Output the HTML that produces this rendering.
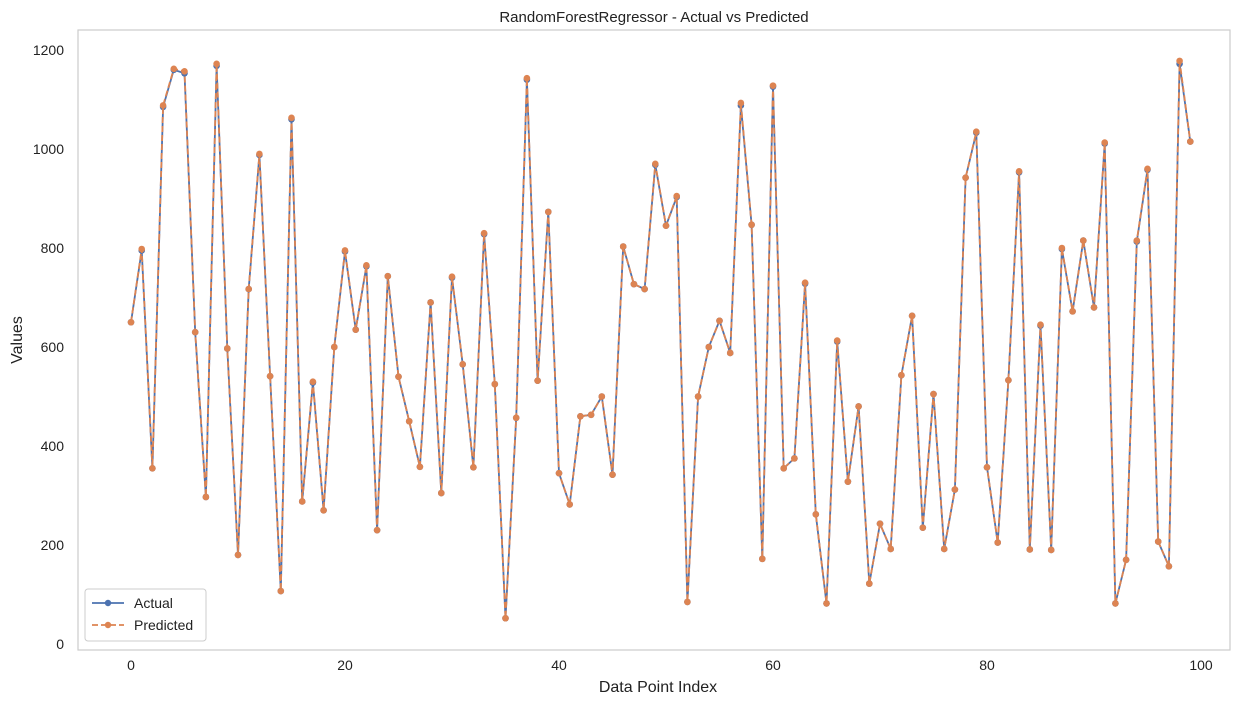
<!DOCTYPE html>
<html><head><meta charset="utf-8"><style>
body{margin:0;background:#fff;font-family:"Liberation Sans",sans-serif}
</style></head><body>
<svg id="chart" width="1250" height="704" xmlns="http://www.w3.org/2000/svg" font-family="Liberation Sans, sans-serif">
<rect x="0" y="0" width="1250" height="704" fill="#fff"/>
<text x="654" y="22" text-anchor="middle" font-size="15" fill="#222">RandomForestRegressor - Actual vs Predicted</text>
<rect x="78" y="30" width="1152" height="620" fill="none" stroke="#ccc" stroke-width="1.2"/>
<g id="xticks"></g>
<g id="yticks"></g>
<text x="658" y="692" text-anchor="middle" font-size="16" fill="#222">Data Point Index</text>
<text x="22" y="340" text-anchor="middle" font-size="16" fill="#222" transform="rotate(-90 22 340)">Values</text>
<g id="series"></g>
<g>
<rect x="85" y="589" width="121" height="52" rx="3" fill="#fff" fill-opacity="0.8" stroke="#ccc"/>
<g>
<line x1="92" y1="603" x2="124" y2="603" stroke="#4c72b0" stroke-width="1.8"/><circle cx="108" cy="603" r="3.2" fill="#4c72b0"/>
<text x="134" y="608" font-size="14" fill="#222">Actual</text></g>
<g>
<line x1="92" y1="625" x2="124" y2="625" stroke="#dd8452" stroke-width="1.8" stroke-dasharray="6,3"/><circle cx="108" cy="625" r="3.2" fill="#dd8452"/>
<text x="134" y="630" font-size="14" fill="#222">Predicted</text></g>
</g>
</svg>
<script>
const predicted=[650,798,355,1088,1162,1157,630,297,1172,597,180,717,990,541,107,1063,288,530,270,600,795,635,765,230,743,540,450,358,690,305,742,565,357,830,525,52,457,1143,532,873,345,282,460,463,500,342,803,727,717,970,845,905,85,500,600,653,588,1093,847,172,1128,355,375,730,262,82,613,328,480,122,243,192,543,663,235,505,192,312,942,1035,357,205,533,955,191,645,190,800,672,815,680,1013,82,170,815,960,207,157,1178,1015];
const actual=[650,795,355,1085,1160,1153,630,297,1168,597,180,717,988,541,107,1060,288,528,270,600,793,635,763,230,743,540,450,358,690,305,740,565,357,828,525,52,457,1140,532,873,345,282,460,463,500,342,803,727,717,968,845,903,85,500,600,653,588,1088,847,172,1126,355,375,728,262,82,611,328,480,122,243,192,543,663,235,505,192,312,942,1033,357,205,533,953,191,643,190,798,672,815,680,1011,82,170,813,958,207,157,1172,1015];
const xTicks=[0,20,40,60,80,100];
const yTicks=[0,200,400,600,800,1000,1200];
const NS="http://www.w3.org/2000/svg";
const X=v=>131+v*10.7, Y=v=>644-v*0.495;
const xt=document.getElementById('xticks'), yt=document.getElementById('yticks'), sg=document.getElementById('series');
function mk(tag,attrs,parent){const e=document.createElementNS(NS,tag);for(const k in attrs)e.setAttribute(k,attrs[k]);parent.appendChild(e);return e;}
xTicks.forEach(t=>{const e=mk('text',{x:X(t),y:670,'text-anchor':'middle','font-size':14,fill:'#222'},xt);e.textContent=t;

});
yTicks.forEach(t=>{const e=mk('text',{x:64,y:Y(t)+5,'text-anchor':'end','font-size':14,fill:'#222'},yt);e.textContent=t;

});
function series(data,color,dash,name){
 const g=mk('g',{},sg);
 
 
 const p=mk('polyline',{points:data.map((v,i)=>X(i)+','+Y(v)).join(' '),fill:'none',stroke:color,'stroke-width':1.8,'stroke-dasharray':dash},g);
 
 
 data.forEach((v,i)=>{const c=mk('circle',{cx:X(i),cy:Y(v),r:3.3,fill:color},g);
 
 });
}
series(actual,'#4c72b0','none','actual');
series(predicted,'#dd8452','6,3','predicted');
</script>
</body></html>
